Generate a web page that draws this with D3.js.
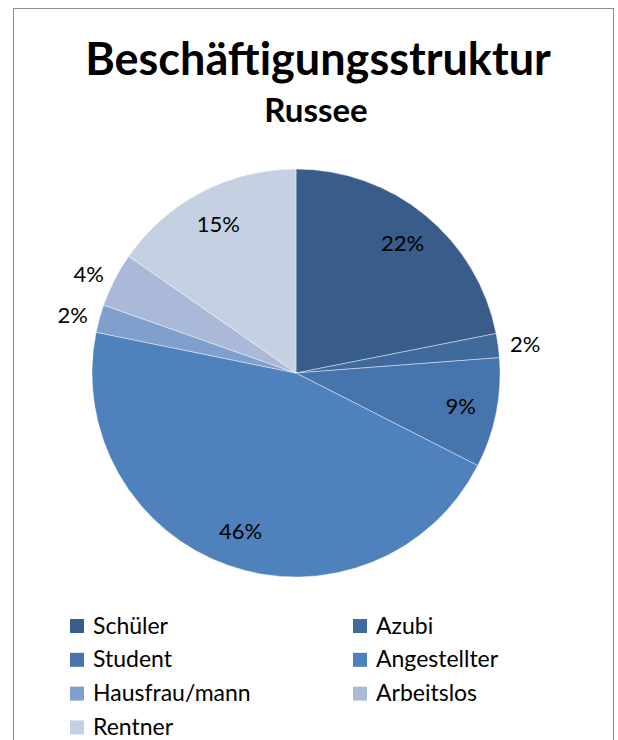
<!DOCTYPE html>
<meta charset="utf-8">
<title>Beschäftigungsstruktur Russee</title>
<style>
body {
  margin: 0;
  background-color: white;
  font-family: 'Lato', sans-serif;
}
</style>
<body>
<script src="https://d3js.org/d3.v7.min.js"></script>
<script>
// data
var categories = ["Schüler", "Azubi", "Student", "Angestellter", "Hausfrau/mann", "Arbeitslos", "Rentner"];
var shares = [21.9, 1.9, 8.7, 45.7, 2.2, 4.3, 15.3];
var colors = ["#385d8a", "#40699c", "#4674ad", "#4f81bd", "#7f9fcc", "#a9b9d7", "#c6d0e3"];
// labels drawn outside the pie
var outside = ["Azubi", "Hausfrau/mann", "Arbeitslos"];

var width = 618,
    height = 740;

var svg = d3.select("body").append("svg")
    .attr("width", width)
    .attr("height", height);

// chart frame
svg.append("rect")
    .attr("x", 13.5)
    .attr("y", 8.5)
    .attr("width", 600)
    .attr("height", 760)
    .attr("fill", "white")
    .attr("stroke", "#8c8c8c");

// titles
svg.append("text")
    .attr("x", 318)
    .attr("y", 75)
    .attr("text-anchor", "middle")
    .attr("font-size", 45)
    .attr("font-weight", "bold")
    .attr("fill", "#000")
    .text("Beschäftigungsstruktur");

svg.append("text")
    .attr("x", 316)
    .attr("y", 122)
    .attr("text-anchor", "middle")
    .attr("font-size", 33)
    .attr("font-weight", "bold")
    .attr("fill", "#000")
    .text("Russee");

// pie
var cx = 296, cy = 373, radius = 204;

var pie = d3.pie().sort(null).value(function(d) { return d; });
var arcs = pie(shares);

var arc = d3.arc().innerRadius(0).outerRadius(radius);
var labelArc = d3.arc().innerRadius(168).outerRadius(168);
var outArc = d3.arc().innerRadius(radius + 12).outerRadius(radius + 12);

var fmt = d3.format(".0%");

var g = svg.append("g").attr("transform", "translate(" + cx + "," + cy + ")");

g.selectAll("path")
    .data(arcs)
    .enter().append("path")
    .attr("d", arc)
    .attr("fill", function(d, i) { return colors[i]; })
    .attr("stroke", "white")
    .attr("stroke-width", 0.6)
    .attr("stroke-opacity", 0.7);

g.selectAll("text")
    .data(arcs)
    .enter().append("text")
    .attr("transform", function(d, i) {
        var p = outside.indexOf(categories[i]) >= 0 ? outArc.centroid(d) : labelArc.centroid(d);
        return "translate(" + p + ")";
    })
    .attr("text-anchor", function(d, i) {
        if (outside.indexOf(categories[i]) < 0) return "middle";
        return (d.startAngle + d.endAngle) / 2 < Math.PI ? "start" : "end";
    })
    .attr("dy", "0.35em")
    .attr("font-size", 22)
    .attr("fill", "#000")
    .text(function(d) { return fmt(d.value / 100); });

// legend, two columns
var legend = svg.append("g");
var rows = legend.selectAll("g")
    .data(categories)
    .enter().append("g")
    .attr("transform", function(d, i) {
        var col = i % 2, row = Math.floor(i / 2);
        return "translate(" + (70 + col * 283) + "," + (626 + row * 33.8) + ")";
    });

rows.append("rect")
    .attr("x", 0)
    .attr("y", -7)
    .attr("width", 14)
    .attr("height", 14)
    .attr("fill", function(d, i) { return colors[i]; });

rows.append("text")
    .attr("x", 23)
    .attr("dy", "0.33em")
    .attr("font-size", 23)
    .attr("fill", "#000")
    .text(function(d) { return d; });
</script>
</body>
